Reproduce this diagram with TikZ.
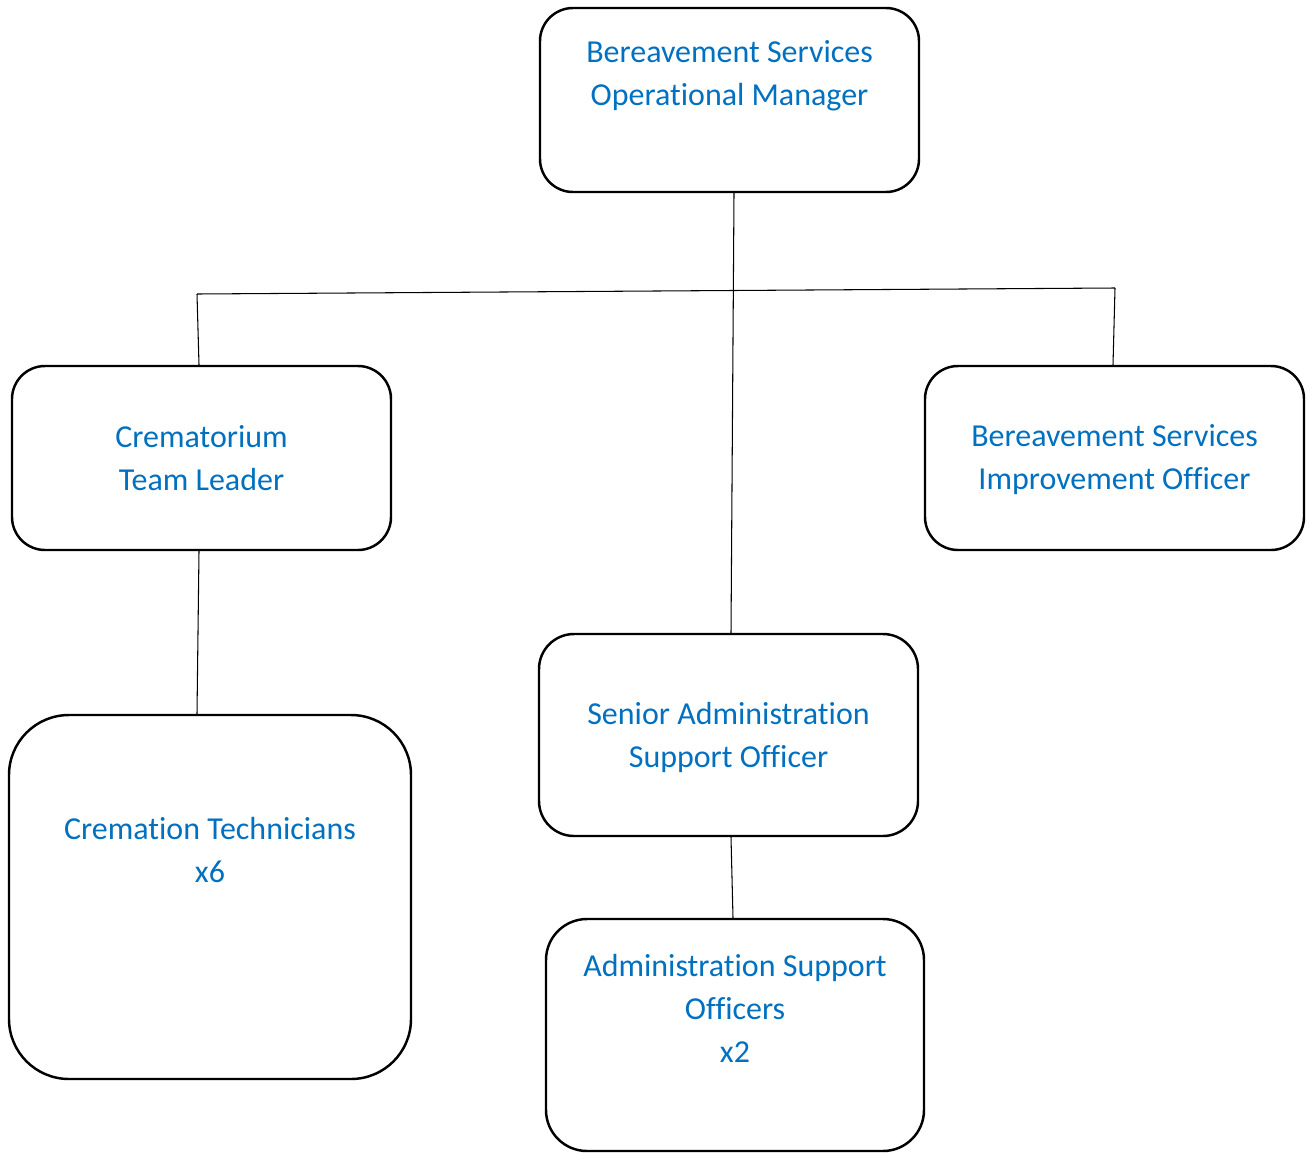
\documentclass[tikz,border=0pt]{standalone}
\usepackage{fontspec}
\setmainfont{Carlito}[Ligatures=NoCommon]
\usetikzlibrary{
    positioning,
    calc
}
\definecolor{titleblue}{HTML}{0070C0}

\begin{document}
\begin{tikzpicture}[
    box/.style={rectangle, draw=black, line width=1.4pt, fill=white,
                minimum width=7.58cm, minimum height=3.68cm,
                inner sep=0pt, rounded corners=0.66cm},
    lbl/.style={text=titleblue, align=center, inner sep=0pt, anchor=north,
                font=\fontsize{18.2pt}{24.5pt}\selectfont},
    link/.style={line width=0.6pt, draw=black}
]

    \useasboundingbox (0,0) rectangle (26.24,-23.06);

    % Boxes
    \node (manager) [box] at (14.59,-2.00) {};
    \node (leader) [box] at (4.03,-9.16) {};
    \node (improve) [box] at (22.29,-9.16) {};
    \node (techs) [box, minimum width=8.04cm, minimum height=7.28cm,
                   rounded corners=1.2cm] at (4.20,-17.94) {};
    \node (senior) [box, minimum height=4.04cm,
                    rounded corners=0.7cm] at (14.57,-14.70) {};
    \node (admins) [box, minimum width=7.56cm, minimum height=4.64cm,
                    rounded corners=0.82cm] at (14.70,-20.70) {};

    % Labels
    \node (managertxt) [lbl, below=0.67cm of manager.north]
        {Bereavement Services\\Operational Manager};
    \node (leadertxt) [lbl, below=1.21cm of leader.north]
        {Crematorium\\Team Leader};
    \node (improvetxt) [lbl, below=1.19cm of improve.north]
        {Bereavement Services\\Improvement Officer};
    \node (techstxt) [lbl, below=2.06cm of techs.north]
        {Cremation Technicians\\x6};
    \node (seniortxt) [lbl, below=1.39cm of senior.north]
        {Senior Administration\\Support Officer};
    \node (adminstxt) [lbl, below=0.73cm of admins.north]
        {Administration Support\\Officers\\x2};

    % Bar ends
    \coordinate (barleft) at (3.94,-5.88);
    \coordinate (barright) at (22.30,-5.76);

    % Lines
    \draw [link] ([xshift=0.09cm]manager.south) -- ([xshift=0.05cm]senior.north);
    \draw [link] (barleft) -- (barright);
    \draw [link] (barleft) -- ([xshift=-0.05cm]leader.north);
    \draw [link] (barright) -- ([xshift=-0.03cm]improve.north);
    \draw [link] ([xshift=-0.05cm]leader.south) -- ([xshift=-0.26cm]techs.north);
    \draw [link] ([xshift=0.05cm]senior.south) -- ([xshift=-0.04cm]admins.north);

\end{tikzpicture}
\end{document}
